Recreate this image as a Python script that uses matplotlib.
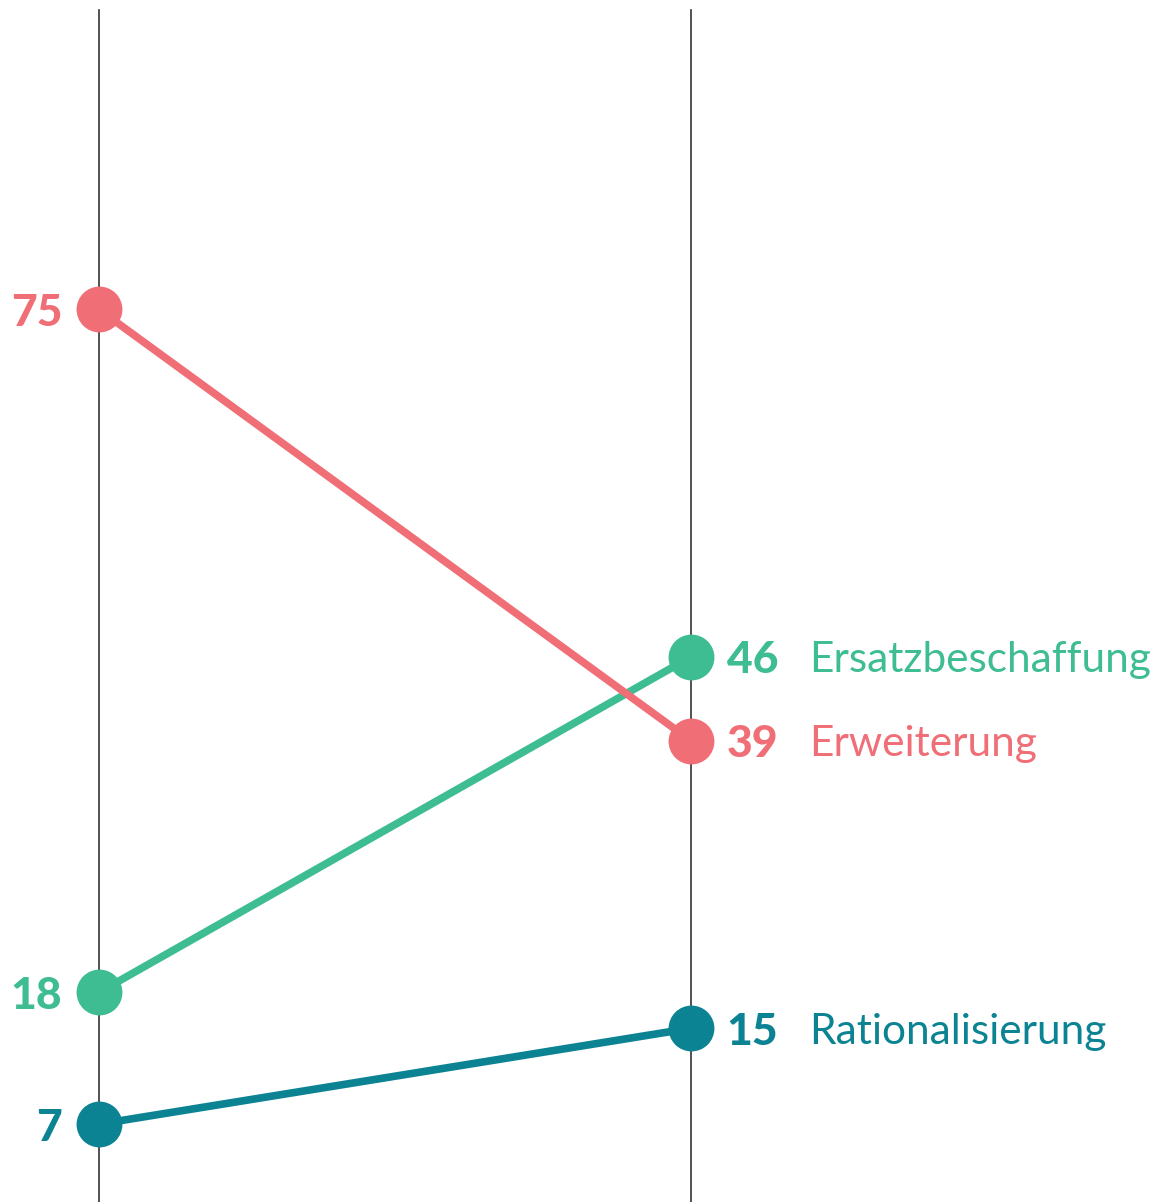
import matplotlib
matplotlib.use("Agg")
import matplotlib.pyplot as plt

labels = ["Ersatzbeschaffung", "Erweiterung", "Rationalisierung"]
left_values = [18, 75, 7]
right_values = [46, 39, 15]
colors = ["#3dbd91", "#f06e76", "#0b8393"]

plt.rcParams["font.family"] = ["Lato", "DejaVu Sans"]

fig = plt.figure(figsize=(11.66, 12.02), dpi=100)
ax = fig.add_axes([0, 0, 1, 1])
# x: 0 -> left axis (px 99), 1 -> right axis (px 691)
ax.set_xlim(-99 / 592, (1166 - 99) / 592)
ax.set_ylim(0.5, 100.83)
ax.axis("off")

for x in (0, 1):
    ax.plot([x, x], [-5, 100], color="#333333", lw=1.2, zorder=1)

for lab, lv, rv, c in zip(labels, left_values, right_values, colors):
    ax.plot([0, 1], [lv, rv], color=c, lw=5.5, solid_capstyle="round", zorder=2)
    ax.plot([0, 1], [lv, rv], "o", color=c, ms=32, zorder=3)
    ax.text(-0.062, lv, str(lv), color=c, fontsize=32, fontweight="black",
            ha="right", va="center_baseline")
    ax.text(1.06, rv, str(rv), color=c, fontsize=32, fontweight="black",
            ha="left", va="center_baseline")
    ax.text(1.2, rv, lab, color=c, fontsize=30.5, ha="left", va="center_baseline")

fig.savefig("out.png", dpi=100)
